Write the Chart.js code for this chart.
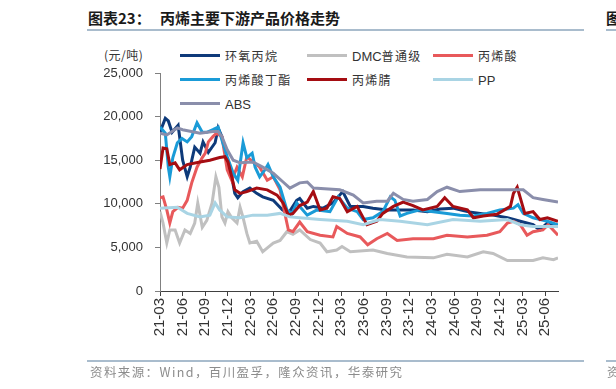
<!DOCTYPE html>
<html lang="zh-CN">
<head>
    <meta charset="UTF-8">
    <title>丙烯主要下游产品价格走势</title>
    <script src="https://cdn.jsdelivr.net/npm/chart.js"></script>
    <style>
        body {
            margin: 0;
            width: 616px;
            height: 389px;
            background: #fff;
            position: relative;
            overflow: hidden;
            font-family: "Noto Sans CJK SC", sans-serif;
        }
        #chart { position: absolute; left: 0; top: 0; }
        .title { position: absolute; top: 7px; font-size: 15px; font-weight: bold; color: #1a1a1a; white-space: nowrap; }
        .rule { position: absolute; height: 2px; background: #a9bccd; }
        .source { position: absolute; left: 90px; top: 362px; font-size: 12.5px; letter-spacing: 1.4px; color: #8c8c8c; white-space: nowrap; }
        .unit { position: absolute; left: 104px; top: 46px; font-size: 12px; color: #333; letter-spacing: 0.5px; }
        .leg { position: absolute; height: 20px; display: flex; align-items: center; white-space: nowrap; }
        .leg i { display: inline-block; width: 40px; height: 3px; margin-right: 5px; }
        .leg span { font-size: 12px; letter-spacing: 1.3px; color: #333; }
        .leg b { font-weight: normal; font-family: "Liberation Sans", Arial, sans-serif; font-size: 13px; letter-spacing: 0; }
    </style>
</head>
<body>
    <div class="title" style="left:88px">图表23：</div>
    <div class="title" style="left:160px">丙烯主要下游产品价格走势</div>
    <div class="title" style="left:606px">图</div>
    <div class="rule" style="left:87px; width:497px; top:29px"></div>
    <div class="rule" style="left:606px; width:20px; top:29px"></div>
    <div class="unit">(元/吨)</div>
    <div id="legend"></div>
    <canvas id="chart" width="616" height="389"></canvas>
    <div class="rule" style="left:87px; width:497px; top:360px"></div>
    <div class="rule" style="left:606px; width:20px; top:360px"></div>
    <div class="source">资料来源：Wind，百川盈孚，隆众资讯，华泰研究</div>
    <div class="source" style="left:607px">资</div>

    <script>
        // x 轴以 2021-03 为 0，单位为月
        const tickMonths = [0, 3, 6, 9, 12, 15, 18, 21, 24, 27, 30, 33, 36, 39, 42, 45, 48, 51];
        const tickLabels = ['21-03', '21-06', '21-09', '21-12', '22-03', '22-06', '22-09', '22-12', '23-03',
            '23-06', '23-09', '23-12', '24-03', '24-06', '24-09', '24-12', '25-03', '25-06'];

        const seriesNames = ['环氧丙烷', 'DMC普通级', '丙烯酸', '丙烯酸丁酯', '丙烯腈', 'PP', 'ABS'];
        const seriesColors = ['#0e3a7a', '#c0c0c0', '#e8595b', '#1a9bd7', '#a50d12', '#a9d4e4', '#8a8eab'];

        // 环氧丙烷
        const poX = [0, 0.7, 1.1, 1.6, 2.4, 3.0, 3.6, 4.0, 4.6, 5.3, 5.7, 6.4, 7.3, 7.7, 8.2, 8.9, 9.5, 9.9, 10.3, 11.0,
            11.9, 12.8, 13.6, 15.0, 16.2, 17.0, 18.1, 18.5, 19.5, 20.3, 21.6, 22.9, 24.2, 25.2, 26.9, 28.2, 30.1,
            31.8, 33.5, 35.4, 37.1, 38.8, 40.7, 42.4, 44.1, 46.0, 47.7, 49.4, 50.3, 51.3, 52.7];
        const poY = [18200, 19800, 19500, 18200, 19000, 15000, 13100, 14200, 16500, 15800, 17100, 15900, 17000, 18700, 17700,
            15000, 13100, 11200, 10700, 11400, 11800, 11200, 10800, 10400, 9300, 8900, 10400, 10600, 9500, 9700, 9500,
            10100, 11400, 9700, 9700, 9500, 9300, 9300, 9300, 9100, 9400, 9500, 9100, 8900, 8700, 8400, 8000, 7600,
            7000, 7800, 7400];

        // DMC普通级
        const dmcX = [0, 0.4, 0.9, 1.3, 2.0, 2.6, 3.3, 4.0, 4.6, 5.0, 5.6, 6.2, 6.9, 7.4, 7.8, 8.2, 8.6, 9.0, 9.5, 10.2,
            10.6, 11.0, 11.5, 11.9, 12.8, 13.6, 14.3, 15.0, 15.9, 16.8, 17.6, 18.5, 19.9, 21.2, 22.1, 23.4, 24.1,
            25.2, 28.2, 30.1, 32.7, 36.2, 38.0, 40.7, 42.8, 44.1, 46.0, 49.4, 50.7, 52.1, 52.7];
        const dmcY = [9100, 7800, 5500, 7000, 7000, 5500, 7000, 6600, 7800, 10100, 7300, 8100, 10100, 13100, 11900, 8500,
            7800, 9100, 8400, 7800, 9600, 8400, 6600, 5500, 5700, 4500, 5000, 5500, 5800, 6800, 6500, 7000, 5900, 5500,
            4500, 4700, 5100, 4500, 4700, 4300, 3900, 3800, 4200, 3900, 4500, 4300, 3500, 3500, 3800, 3600, 3800];

        // 丙烯酸
        const aaX = [0, 0.4, 0.9, 1.3, 1.7, 2.4, 3.0, 3.6, 4.2, 4.9, 5.6, 6.0, 6.4, 7.0, 7.5, 8.2, 8.9, 9.5, 10.2, 10.9,
            11.5, 12.3, 13.2, 14.2, 15.0, 15.9, 16.5, 17.0, 17.6, 18.5, 19.5, 21.2, 22.9, 23.4, 24.8, 26.5, 27.5,
            28.7, 30.1, 31.4, 33.5, 36.2, 38.0, 40.7, 43.3, 45.0, 46.0, 46.8, 47.7, 48.6, 49.4, 50.7, 51.4, 52.7];
        const aaY = [10700, 10800, 9300, 7800, 9100, 9600, 9500, 10400, 12400, 14200, 15300, 15800, 17100, 17700, 18100,
            17700, 13900, 12700, 14200, 13100, 15400, 14800, 14200, 12700, 13100, 11600, 9000, 7000, 6800, 7900, 6800,
            6400, 6200, 7400, 6600, 6200, 5300, 6000, 6600, 5800, 6000, 6000, 6400, 6200, 6400, 6800, 7800, 8000, 7600,
            6400, 6800, 7000, 7600, 6400];

        // 丙烯酸丁酯
        const baX = [0, 0.7, 1.1, 1.3, 1.7, 2.3, 2.9, 3.6, 4.2, 4.9, 5.6, 6.2, 7.0, 7.7, 8.2, 8.9, 9.7, 10.3, 11.0, 11.5,
            12.2, 12.6, 13.2, 13.9, 14.3, 15.0, 15.9, 16.8, 17.5, 18.1, 19.5, 20.8, 22.5, 23.6, 24.8, 26.1, 26.9,
            28.2, 29.5, 30.5, 31.1, 31.8, 32.7, 34.4, 36.2, 38.0, 39.7, 41.5, 43.3, 45.0, 46.8, 47.4, 48.1, 49.4,
            51.3, 52.7];
        const baY = [18800, 18100, 14200, 13100, 15300, 17000, 17500, 17100, 17700, 19300, 18200, 18200, 18500, 18800,
            17300, 15400, 13500, 12700, 17000, 15300, 15800, 14200, 13100, 13900, 14500, 13100, 11900, 9300, 8900,
            10100, 8700, 9300, 9100, 10800, 9500, 9100, 8200, 8400, 9100, 10800, 10400, 8600, 8900, 9300, 9100, 8900,
            8700, 8600, 8900, 9300, 9500, 9900, 8900, 8400, 8000, 7600];

        // 丙烯腈
        const anX = [0, 0.4, 0.9, 1.3, 2.0, 2.6, 3.6, 5.3, 6.6, 7.9, 8.6, 9.0, 9.5, 9.9, 10.6, 11.5, 12.8, 14.2, 15.5,
            16.3, 17.0, 17.6, 18.5, 19.5, 20.3, 21.2, 22.1, 22.9, 23.8, 24.8, 26.1, 27.4, 28.7, 29.5, 30.9, 32.2,
            33.5, 34.8, 36.7, 37.7, 38.8, 40.7, 41.5, 42.8, 44.6, 46.4, 46.8, 47.3, 47.9, 48.3, 49.4, 50.3, 51.3, 52.7];
        const anY = [14000, 16400, 16300, 14500, 14700, 13900, 14500, 14800, 15000, 15300, 15400, 14800, 13100, 11600,
            11200, 11400, 11800, 11600, 11000, 10100, 8700, 8900, 9800, 10200, 11400, 9300, 9500, 10800, 10600, 9100,
            9700, 7600, 8000, 8900, 9700, 10200, 9800, 9300, 9700, 10700, 9700, 9300, 8400, 8600, 8800, 9700, 11200,
            11900, 10100, 8900, 9100, 8200, 8400, 8000];

        // PP
        const ppX = [0, 2.3, 3.6, 5.3, 6.6, 7.3, 7.9, 8.9, 10.6, 12.3, 14.2, 15.9, 17.2, 18.5, 21.2, 24.8, 26.9, 29.1,
            31.8, 35.4, 38.8, 42.4, 46.0, 47.7, 49.4, 52.7];
        const ppY = [9500, 9600, 8900, 8500, 8700, 10100, 9300, 8500, 8400, 8700, 8700, 8900, 8500, 8400, 8200, 8000,
            7600, 8200, 8000, 7600, 8200, 8000, 8200, 7600, 7400, 7400];

        // ABS
        const absX = [0, 0.9, 2.3, 3.0, 5.3, 7.0, 7.7, 8.2, 8.9, 9.7, 10.6, 12.3, 13.6, 15.0, 16.3, 17.2, 18.5, 19.5,
            20.3, 23.8, 25.6, 26.9, 28.7, 30.1, 30.9, 32.2, 33.5, 35.4, 36.7, 38.0, 39.7, 42.4, 46.8, 48.1, 49.4,
            50.7, 52.7];
        const absY = [18100, 17900, 18700, 18500, 18100, 18300, 18300, 17700, 16200, 15000, 14700, 14800, 14200, 13500,
            12500, 11800, 12400, 12500, 11800, 11600, 11000, 10100, 10300, 10300, 11200, 10500, 10300, 10500, 11400,
            11900, 11400, 11600, 11600, 11600, 10700, 10500, 10200];

        const xs = [poX, dmcX, aaX, baX, anX, ppX, absX];
        const ys = [poY, dmcY, aaY, baY, anY, ppY, absY];

        // 图例
        const legendCols = [180, 307, 433];
        const legendRows = [45, 69, 93];
        const legendBox = document.getElementById('legend');
        seriesNames.forEach((name, i) => {
            const item = document.createElement('div');
            item.className = 'leg';
            item.style.left = legendCols[i % 3] + 'px';
            item.style.top = legendRows[Math.floor(i / 3)] + 'px';
            const text = name.replace(/[A-Za-z]+/g, m => '<b>' + m + '</b>');
            item.innerHTML = '<i style="background:' + seriesColors[i] + '"></i><span>' + text + '</span>';
            legendBox.appendChild(item);
        });

        const datasets = seriesNames.map((name, i) => ({
            label: name,
            data: xs[i].map((x, j) => ({ x: x, y: ys[i][j] })),
            borderColor: seriesColors[i],
            borderWidth: 3,
            pointRadius: 0,
            tension: 0,
            fill: false,
            order: seriesNames.length - i
        }));

        const axisFont = { family: '"Liberation Sans", Arial, sans-serif', size: 13 };

        new Chart(document.getElementById('chart').getContext('2d'), {
            type: 'line',
            data: { datasets: datasets },
            options: {
                responsive: false,
                animation: false,
                events: [],
                layout: { padding: { left: 0, right: 58, top: 73, bottom: 0 } },
                plugins: {
                    legend: { display: false },
                    tooltip: { enabled: false }
                },
                scales: {
                    x: {
                        type: 'linear',
                        min: 0,
                        max: 52.7,
                        afterFit: s => { s.height = 98; },
                        afterBuildTicks: s => { s.ticks = tickMonths.map(v => ({ value: v })); },
                        border: { color: '#404040', width: 1 },
                        grid: { drawOnChartArea: false, drawTicks: true, tickLength: 5, tickColor: '#404040' },
                        ticks: {
                            minRotation: 90,
                            maxRotation: 90,
                            padding: 2,
                            color: '#333',
                            font: { family: axisFont.family, size: 15 },
                            callback: v => tickLabels[tickMonths.indexOf(v)]
                        }
                    },
                    y: {
                        min: 0,
                        max: 25000,
                        afterFit: s => { s.width = 160; },
                        border: { color: '#808080', width: 1 },
                        grid: { drawOnChartArea: false, drawTicks: true, tickLength: 5, tickColor: '#808080' },
                        ticks: {
                            stepSize: 5000,
                            padding: 12,
                            color: '#333',
                            font: axisFont,
                            callback: v => v.toLocaleString('en-US')
                        }
                    }
                }
            }
        });
    </script>
</body>
</html>
